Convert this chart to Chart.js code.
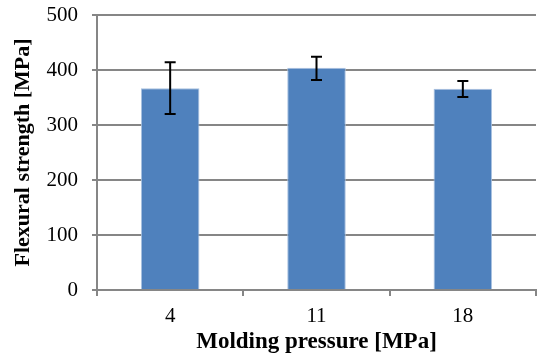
<!DOCTYPE html>
<html>
<head>
<meta charset="utf-8">
<script src="https://cdn.jsdelivr.net/npm/chart.js@4"></script>
<style>
  html, body { margin: 0; padding: 0; background: #fff; overflow: hidden; }
</style>
</head>
<body>
<canvas id="chart" width="537" height="356"></canvas>
<script>
// molding pressure categories and measured flexural strength
const pressures = ['4', '11', '18'];
const strength = [367, 404, 366];
const errUp = [47, 20, 14];
const errDown = [47, 22, 15];
const yTicks = [0, 100, 200, 300, 400, 500];

const FONT = "'Liberation Serif', 'Times New Roman', serif";

// draws the black error bars with caps, positioned through the chart scales
const errorBars = {
    id: 'errorBars',
    afterDatasetsDraw(chart) {
        const ctx = chart.ctx;
        const meta = chart.getDatasetMeta(0);
        const y = chart.scales.y;
        ctx.save();
        ctx.strokeStyle = '#000';
        ctx.lineWidth = 2;
        meta.data.forEach((bar, i) => {
            const x = bar.x;
            const top = y.getPixelForValue(strength[i] + errUp[i]);
            const bot = y.getPixelForValue(strength[i] - errDown[i]);
            ctx.beginPath();
            ctx.moveTo(x, top); ctx.lineTo(x, bot);
            ctx.moveTo(x - 5.5, top); ctx.lineTo(x + 5.5, top);
            ctx.moveTo(x - 5.5, bot); ctx.lineTo(x + 5.5, bot);
            ctx.stroke();
        });
        ctx.restore();
    }
};

new Chart(document.getElementById('chart'), {
    type: 'bar',
    data: {
        labels: pressures,
        datasets: [{
            data: strength,
            backgroundColor: '#4F81BD',
            borderColor: '#A9C1E0',
            borderWidth: 1,
            barPercentage: 0.4,
            categoryPercentage: 1.0
        }]
    },
    options: {
        responsive: false,
        animation: false,
        maintainAspectRatio: false,
        layout: { padding: { top: 15, right: 1, left: 0, bottom: 0 } },
        plugins: {
            legend: { display: false },
            tooltip: { enabled: false }
        },
        scales: {
            x: {
                afterFit: (axis) => { axis.height = 66; axis.paddingLeft = 0; axis.paddingRight = 0; },
                grid: {
                    offset: true,
                    drawOnChartArea: false,
                    color: '#868686',
                    lineWidth: 2,
                    tickLength: 6
                },
                border: { color: '#868686', width: 2 },
                ticks: { color: '#000', font: { family: FONT, size: 21 }, padding: 8 },
                title: {
                    display: true,
                    text: 'Molding pressure [MPa]',
                    color: '#000',
                    font: { family: FONT, size: 23, weight: 'bold' },
                    padding: { top: 0, bottom: 0 }
                }
            },
            y: {
                min: 0,
                max: 500,
                afterFit: (axis) => { axis.width = 97; axis.paddingTop = 0; axis.paddingBottom = 0; },
                afterBuildTicks: (axis) => { axis.ticks = yTicks.map(v => ({ value: v })); },
                grid: {
                    color: '#868686',
                    lineWidth: 2,
                    tickLength: 5
                },
                border: { color: '#868686', width: 2 },
                ticks: { color: '#000', font: { family: FONT, size: 21 }, padding: 14 },
                title: {
                    display: true,
                    text: 'Flexural strength [MPa]',
                    color: '#000',
                    font: { family: FONT, size: 22, weight: 'bold' },
                    padding: { top: 10, bottom: 0 }
                }
            }
        }
    },
    plugins: [errorBars]
});
</script>
</body>
</html>
